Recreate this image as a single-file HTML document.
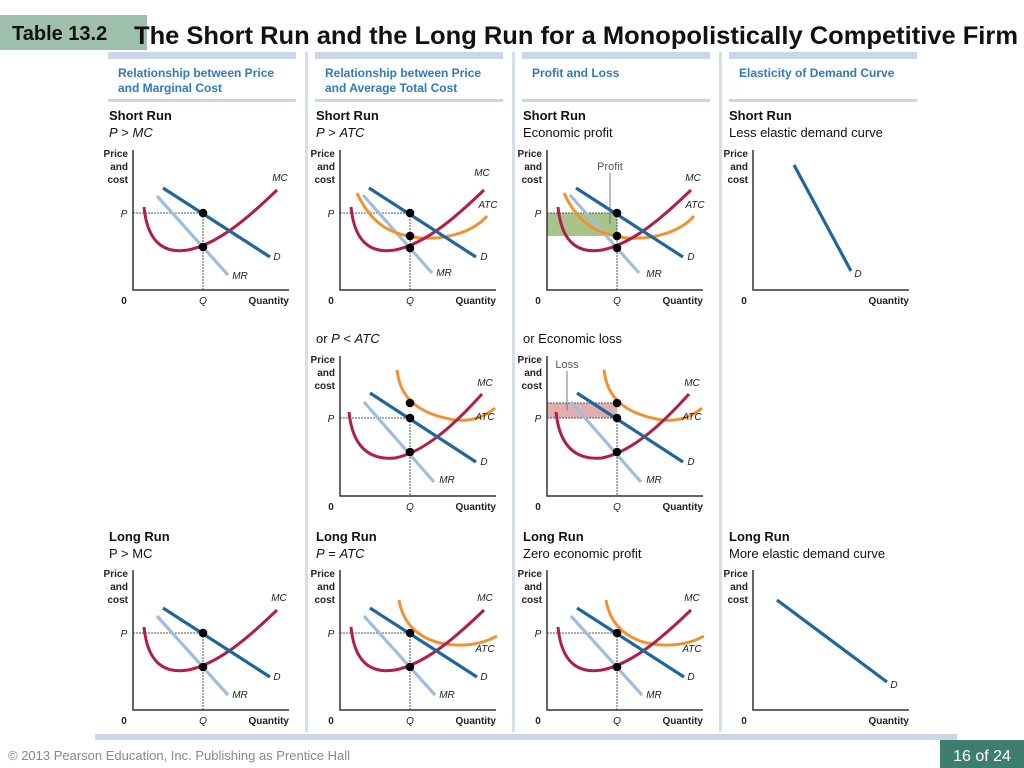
<!DOCTYPE html>
<html><head><meta charset="utf-8"><style>
body{margin:0;width:1024px;height:768px;background:#fff;overflow:hidden;font-family:"Liberation Sans",sans-serif;}
svg{position:absolute;left:0;top:0}
svg text{font-family:"Liberation Sans",Arial,sans-serif;}
</style></head><body>
<svg id="s" width="1024" height="768" xmlns="http://www.w3.org/2000/svg">
<rect x="0" y="15" width="147" height="35" fill="#9ebfab"/>
<text x="12" y="40" font-size="20" font-weight="bold" fill="#111">Table 13.2</text>
<text x="134" y="44" font-size="25" font-weight="bold" fill="#111" textLength="884" lengthAdjust="spacingAndGlyphs">The Short Run and the Long Run for a Monopolistically Competitive Firm</text>
<g id="frame"></g>
<g id="panels"></g>
<rect x="95" y="734" width="862" height="6" fill="#c9d7e8"/>
<text x="8" y="760" font-size="13" fill="#888">© 2013 Pearson Education, Inc. Publishing as Prentice Hall</text>
<rect x="940" y="740" width="84" height="28" fill="#3e7e6f"/>
<text x="982" y="761" font-size="16" fill="#fff" text-anchor="middle">16 of 24</text>
</svg>
<script>
const NS="http://www.w3.org/2000/svg";
const colX=[133,340,547,753];
const rowY=[290,496,710];
const headers=[["Relationship between Price","and Marginal Cost"],["Relationship between Price","and Average Total Cost"],["Profit and Loss",""],["Elasticity of Demand Curve",""]];
const subtitles=[
 [0,0,"Short Run","P > MC",true],[1,0,"Short Run","P > ATC",true],[2,0,"Short Run","Economic profit",false],[3,0,"Short Run","Less elastic demand curve",false],
 [1,1,"","or P < ATC",true],[2,1,"","or Economic loss",false],
 [0,2,"Long Run","P > MC",false],[1,2,"Long Run","P = ATC",true],[2,2,"Long Run","Zero economic profit",false],[3,2,"Long Run","More elastic demand curve",false]];
const MC="M11,-83 C15,-42 36,-37 55,-40 C85,-46 115,-72 144,-100";
const MC2="M9,-84 C13,-45 33,-36 55,-38 C85,-44 115,-72 142,-102";
const ATCp="M17,-97 C33,-62 55,-55 80,-52 C110,-50 135,-60 147,-74";
const ATCl="M57,-126 C60,-98 78,-82 115,-76 C135,-74 148,-82 155,-88";
const ATCz="M59,-110 C63,-86 80,-67 115,-65 C135,-64 148,-69 157,-74";
const DA=[30,-102,137,-33], MRA=[24,-94,95,-15];
const panels=[
 {c:0,r:0,mc:MC,d:DA,mr:MRA,dots:[-77,-43],P:-77,lab:{MC:[147,-109],D:[144,-30],MR:[107,-11]}},
 {c:1,r:0,mc:MC,atc:ATCp,d:[29,-102,136,-33],mr:[23,-95,92,-17],dots:[-77,-54,-42],P:-77,lab:{MC:[142,-114],ATC:[148,-82],D:[144,-30],MR:[104,-14]}},
 {c:2,r:0,mc:MC,atc:ATCp,d:[29,-102,136,-33],mr:[23,-95,92,-17],dots:[-77,-54,-42],P:-77,rect:[-77,-54,"#a9c48a"],rl:["Profit",63],lab:{MC:[146,-109],ATC:[148,-82],D:[144,-30],MR:[107,-13]}},
 {c:3,r:0,d:[41,-125,98,-19],lab:{D:[105,-13]}},
 {c:1,r:1,mc:MC2,atc:ATCl,d:[30,-103,136,-34],mr:[24,-94,94,-14],dots:[-93,-78,-44],P:-78,lab:{MC:[145,-110],ATC:[145,-76],D:[144,-31],MR:[107,-13]}},
 {c:2,r:1,mc:MC2,atc:ATCl,d:[30,-103,136,-34],mr:[24,-94,94,-14],dots:[-93,-78,-44],P:-78,rect:[-93,-78,"#e3aeb0"],rl:["Loss",20],lab:{MC:[145,-110],ATC:[145,-76],D:[144,-31],MR:[107,-13]}},
 {c:0,r:2,mc:MC,d:DA,mr:MRA,dots:[-77,-43],P:-77,lab:{MC:[146,-109],D:[144,-30],MR:[107,-12]}},
 {c:1,r:2,mc:MC,atc:ATCz,d:DA,mr:MRA,dots:[-77,-43],P:-77,lab:{MC:[145,-109],ATC:[145,-58],D:[144,-30],MR:[107,-12]}},
 {c:2,r:2,mc:MC,atc:ATCz,d:DA,mr:MRA,dots:[-77,-43],P:-77,lab:{MC:[145,-109],ATC:[145,-58],D:[144,-30],MR:[107,-12]}},
 {c:3,r:2,d:[24,-110,134,-28],lab:{D:[141,-22]}}];
function mk(t,a,p,txt){const e=document.createElementNS(NS,t);for(const k in a)e.setAttribute(k,a[k]);if(txt!==undefined)e.textContent=txt;p.appendChild(e);return e;}
const fr=document.getElementById('frame');
for(let i=0;i<4;i++){
 const x0=108+i*207;
 const hb=mk('rect',{x:x0,y:52,width:188,height:7,fill:'#c9d7e8'},fr);
 
 
 mk('rect',{x:x0,y:99,width:188,height:3,fill:'#c9d7e8'},fr);
 const h1=mk('text',{x:x0+10,y:77,'font-size':12,'font-weight':'bold',fill:'#2f7ab8'},fr,headers[i][0]);
 
 
 mk('text',{x:x0+10,y:92,'font-size':12,'font-weight':'bold',fill:'#2f7ab8'},fr,headers[i][1]);
 if(i<3){const s=mk('rect',{x:305+i*207,y:52,width:3,height:680,fill:'#d3dfec'},fr);
 
 }
}
const subY=[115,338,536];
subtitles.forEach(s=>{
 const x=colX[s[0]]-24, y=subY[s[1]];
 if(s[2]){const t=mk('text',{x:x,y:y+5,'font-size':13,'font-weight':'bold',fill:'#111'},fr,s[2]);
 }
 const yy=s[2]?y+22:y+5;
 let txt=s[3];
 const t2=mk('text',{x:x,y:yy,'font-size':13,fill:'#111'},fr);
 
 
 if(s[4]){
  txt.split(/(P|MC|ATC)/).forEach(part=>{if(!part)return;mk('tspan',{'font-style':/^(P|MC|ATC)$/.test(part)?'italic':'normal'},t2,part);});
 } else t2.textContent=txt;
});
const pg=document.getElementById('panels');
panels.forEach(p=>{
 const ox=colX[p.c], oy=rowY[p.r];
 const g=mk('g',{transform:`translate(${ox},${oy})`},pg);
 
 
 const fs={'font-size':10,'font-weight':'bold',fill:'#222','text-anchor':'end'};
 mk('text',Object.assign({x:-5,y:-133},fs),g,'Price');
 mk('text',Object.assign({x:-5,y:-120},fs),g,'and');
 mk('text',Object.assign({x:-5,y:-107},fs),g,'cost');
 mk('text',{x:-9,y:14,'font-size':10,'font-weight':'bold',fill:'#222','text-anchor':'middle'},g,'0');
 mk('text',{x:156,y:14,'font-size':10,'font-weight':'bold',fill:'#222','text-anchor':'end'},g,'Quantity');
 if(p.rect){const r=mk('rect',{x:0,y:p.rect[0],width:70,height:p.rect[1]-p.rect[0],fill:p.rect[2]},g);
  }
 if(p.P!==undefined){
  mk('line',{x1:0,y1:p.P,x2:70,y2:p.P,stroke:'#555','stroke-width':1,'stroke-dasharray':'2,1'},g);
  if(p.rect)mk('line',{x1:0,y1:p.rect[0],x2:70,y2:p.rect[0],stroke:'#555','stroke-width':1,'stroke-dasharray':'2,1'},g);
  mk('line',{x1:70,y1:p.P,x2:70,y2:0,stroke:'#555','stroke-width':1,'stroke-dasharray':'2,1'},g);
  mk('text',{x:-9,y:p.P+4,'font-size':10,'font-style':'italic',fill:'#222','text-anchor':'middle'},g,'P');
  mk('text',{x:70,y:14,'font-size':10,'font-style':'italic',fill:'#222','text-anchor':'middle'},g,'Q');
 }
 mk('path',{d:'M0,-140 V0 H156',fill:'none',stroke:'#333','stroke-width':1.5},g);
 if(p.rl){const top=p.r==0?-115:-123;
  mk('text',{x:p.rl[1],y:top-5,'font-size':11,fill:'#555','text-anchor':'middle'},g,p.rl[0]);
  mk('line',{x1:p.rl[1],y1:top-2,x2:p.rl[1],y2:(p.rect[0]+p.rect[1])/2,stroke:'#777','stroke-width':1},g);}
 if(p.mr){const l=mk('line',{x1:p.mr[0],y1:p.mr[1],x2:p.mr[2],y2:p.mr[3],stroke:'#9fbedb','stroke-width':3.2},g);
  }
 if(p.atc){const a=mk('path',{d:p.atc,fill:'none',stroke:'#f0922e','stroke-width':3},g);
  }
 if(p.mc){const m=mk('path',{d:p.mc,fill:'none',stroke:'#b01f45','stroke-width':3},g);
  }
 const d=mk('line',{x1:p.d[0],y1:p.d[1],x2:p.d[2],y2:p.d[3],stroke:'#1e66a0','stroke-width':3.2},g);
 
 
 (p.dots||[]).forEach(v=>{const c=mk('circle',{cx:70,cy:v,r:4.3,fill:'#000'},g);
  });
 for(const k in p.lab){mk('text',{x:p.lab[k][0],y:p.lab[k][1],'font-size':10,'font-style':'italic',fill:'#222','text-anchor':'middle'},g,k);}
});
</script>
</body></html>
